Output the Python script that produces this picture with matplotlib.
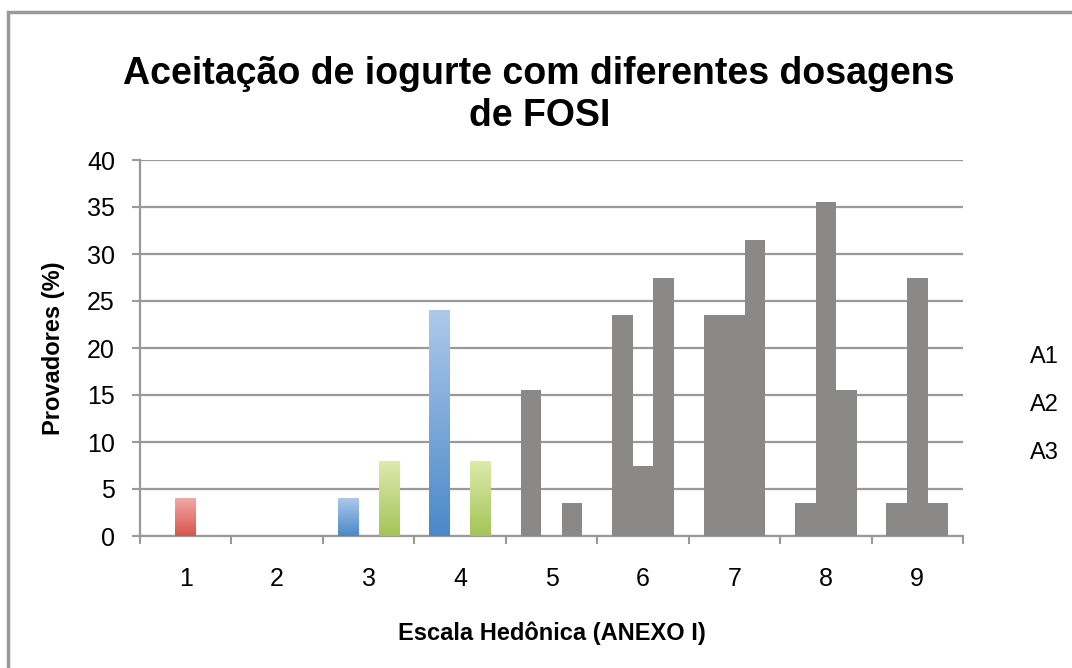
import numpy as np
import matplotlib.pyplot as plt
from matplotlib.patches import Rectangle
from matplotlib.colors import LinearSegmentedColormap

plt.rcParams['font.family'] = ['Liberation Sans', 'DejaVu Sans']

categories = ['1', '2', '3', '4', '5', '6', '7', '8', '9']
series = ['A1', 'A2', 'A3']
a1 = [0, 0, 4, 24, 15.5, 23.5, 23.5, 3.5, 3.5]
a2 = [4, 0, 0, 0, 0, 7.5, 23.5, 35.5, 27.5]
a3 = [0, 0, 8, 8, 3.5, 27.5, 31.5, 15.5, 3.5]
    # percent of tasters per hedonic score

values = [a1, a2, a3]
grads = [('#4a88c8', '#adc9ea'), ('#d6544f', '#f4a8a5'), ('#a3c457', '#dfeaae')]
    # bottom / top colour of each series gradient
gray = '#8b8988'
gray_from = 4
    # from score 5 on the bars come out flat grey in the original

fig = plt.figure(figsize=(10.72, 6.68), dpi=100)
ax = fig.add_axes([140 / 1072, 1 - 536 / 668, 823 / 1072, 376 / 668])

x = np.arange(len(categories))
width = 0.225
grad = np.linspace(0, 1, 256).reshape(-1, 1)

for i, (vals, (c0, c1)) in enumerate(zip(values, grads)):
    cmap = LinearSegmentedColormap.from_list(series[i], [c0, c1])
    pos = x + (i - 1) * width
    bars = ax.bar(pos, vals, width, color='none', edgecolor='none', label=series[i], zorder=3)
    for j, b in enumerate(bars):
        if vals[j] == 0:
            continue
        if j >= gray_from:
            b.set_facecolor(gray)
            continue
        bx, by = b.get_x(), b.get_y()
        bw, bh = b.get_width(), b.get_height()
        im = ax.imshow(grad, cmap=cmap, origin='lower', aspect='auto',
                       extent=(bx, bx + bw, by, by + bh), zorder=3)
        im.set_clip_path(b)

ax.set_xlim(-0.5, len(categories) - 0.5)
ax.set_ylim(0, 40)
ax.set_yticks(np.arange(0, 41, 5))
ax.set_xticks(x)
ax.set_xticklabels(categories)
ax.set_xticks(np.arange(-0.5, len(categories), 1), minor=True)
ax.tick_params(axis='x', which='major', length=0, labelsize=18, pad=22)
ax.tick_params(axis='x', which='minor', length=6, width=1.5, color='#999999')
ax.tick_params(axis='y', length=6, width=1.5, color='#999999', labelsize=18, pad=12)
ax.grid(axis='y', color='#999999', linewidth=1.6, zorder=1)
ax.set_axisbelow(True)
for s in ['top', 'right']:
    ax.spines[s].set_visible(False)
for s in ['left', 'bottom']:
    ax.spines[s].set_color('#999999')
    ax.spines[s].set_linewidth(1.6)
    # axes and grid in Excel grey

ax.set_xlabel('Escala Hedônica (ANEXO I)', fontsize=17, fontweight='bold', labelpad=22)
ax.set_ylabel('Provadores (%)', fontsize=17, fontweight='bold', labelpad=16)
fig.text(0.503, 0.858, 'Aceitação de iogurte com diferentes dosagens\nde FOSI',
         ha='center', va='center', fontsize=27, fontweight='bold', linespacing=1.2)

leg = ax.legend(loc='center left', bbox_to_anchor=(1.021, 0.349), frameon=False,
                fontsize=17, handlelength=0.8, handletextpad=0.4, labelspacing=1.1)
for h in leg.legend_handles:
    h.set_visible(False)
    # legend shows only the names, markers are invisible in the original

fig.patches.append(Rectangle((8 / 1072, -0.1), 1.2, 1.1 - 12 / 668,
                             transform=fig.transFigure, fill=False,
                             edgecolor='#999999', linewidth=2.5))
    # outer chart border

plt.savefig('out.png', dpi=100)
